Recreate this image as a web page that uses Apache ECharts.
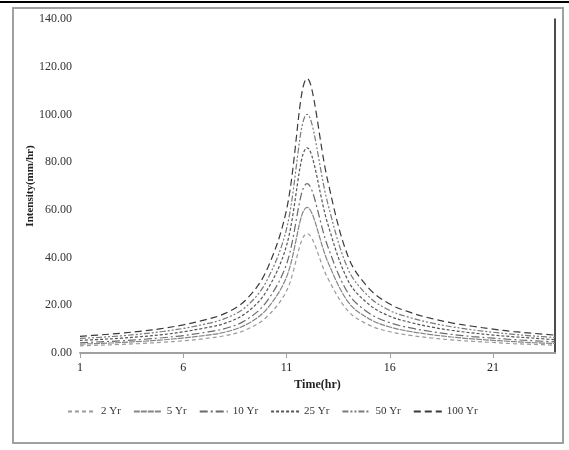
<!DOCTYPE html>
<html>
<head>
<meta charset="utf-8">
<script src="https://cdn.jsdelivr.net/npm/echarts@6/dist/echarts.min.js"></script>
<style>html,body{margin:0;padding:0;background:#fff;}#c{width:569px;height:450px;}</style>
</head>
<body>
<div id="c"></div>
<script>
const hours = ['1','2','3','4','5','6','7','8','9','10','11','12','13','14','15','16','17','18','19','20','21','22','23','24'];
const yr2   = [3.0,3.3,3.6,4.0,4.5,5.1,6.0,7.2,9.6,14.8,26,50,31.3,17.4,11.7,8.9,7.4,6.3,5.5,4.9,4.4,3.9,3.6,3.3];
const yr5   = [3.7,4.0,4.4,4.9,5.5,6.3,7.3,8.7,11.7,18,31.8,61,38.2,21.2,14.3,10.9,9.0,7.7,6.7,5.9,5.3,4.8,4.3,4.0];
const yr10  = [4.3,4.7,5.1,5.7,6.4,7.3,8.6,10.2,13.6,21.1,37.2,71,44.6,24.8,16.7,12.7,10.5,9.0,7.8,6.9,6.2,5.6,5.1,4.7];
const yr25  = [5.3,5.7,6.2,6.9,7.7,8.9,10.4,12.4,16.5,25.5,45,86,54,30,20.3,15.4,12.8,10.9,9.5,8.4,7.5,6.8,6.2,5.6];
const yr50  = [6.1,6.6,7.2,8.0,9.0,10.3,12.0,14.4,19.1,29.6,52,100,62.6,34.8,23.5,17.8,14.8,12.6,11.0,9.7,8.7,7.8,7.1,6.5];
const yr100 = [7.0,7.6,8.3,9.2,10.3,11.8,13.8,16.5,22,34,60,115,72,40,27,20.5,17,14.5,12.6,11.2,10.0,9.0,8.2,7.5];
const seriesNames = ['2 Yr','5 Yr','10 Yr','25 Yr','50 Yr','100 Yr'];
const seriesData = [yr2, yr5, yr10, yr25, yr50, yr100];
const yTicks = [0,20,40,60,80,100,120,140];

const styles = [
  {color:'#9a9a9a', type:[4,3]},
  {color:'#858585', type:[6,1]},
  {color:'#6a6a6a', type:[8,3,2,3]},
  {color:'#555555', type:[3,2]},
  {color:'#7a7a7a', type:[6,2,2,2,2,2]},
  {color:'#3a3a3a', type:[7,4]}
];
const font = 'Liberation Serif, Times New Roman, serif';
const chart = echarts.init(document.getElementById('c'), null, {renderer:'canvas'});
chart.setOption({
  animation:false,
  backgroundColor:'#fff',
  graphic:[
    {type:'line', shape:{x1:0,y1:2,x2:569,y2:2}, style:{stroke:'#000',lineWidth:2}},
    {type:'rect', shape:{x:13,y:8,width:550,height:435}, style:{fill:'none',stroke:'#a0a0a0',lineWidth:2}}
  ],
  grid:{left:80,right:14,top:19,bottom:97},
  legend:{
    data:seriesNames,
    top:401,
    left:62,
    itemWidth:28,
    itemHeight:10,
    itemGap:12,
    itemStyle:{opacity:0},
    textStyle:{fontFamily:font,fontSize:11,color:'#333'}
  },
  xAxis:{
    type:'category',
    data:hours,
    boundaryGap:false,
    name:'Time(hr)',
    nameLocation:'middle',
    nameGap:22,
    nameTextStyle:{fontFamily:font,fontSize:12,fontWeight:'bold',color:'#222'},
    axisLine:{lineStyle:{color:'#a0a0a0',width:2}},
    axisTick:{show:true,interval:4,length:5,alignWithLabel:true,lineStyle:{color:'#a0a0a0'}},
    axisLabel:{interval:4,margin:9,fontFamily:font,fontSize:12,color:'#222'},
    splitLine:{show:false}
  },
  yAxis:[{
    type:'value',
    min:yTicks[0],
    max:yTicks[yTicks.length-1],
    interval:20,
    name:'Intensity(mm/hr)',
    nameLocation:'middle',
    nameGap:44,
    nameMoveOverlap:false,
    nameRotate:90,
    nameTextStyle:{fontFamily:font,fontSize:11,fontWeight:'bold',color:'#222'},
    axisLine:{show:false},
    axisTick:{show:false},
    splitLine:{show:false},
    axisLabel:{margin:8,fontFamily:font,fontSize:12,color:'#333',formatter:v=>v.toFixed(2)}
  },{
    type:'value',
    position:'right',
    min:0,max:140,interval:20,
    axisLine:{show:true,lineStyle:{color:'#111',width:1.5}},
    axisTick:{show:false},
    axisLabel:{show:false},
    splitLine:{show:false}
  }],
  series: seriesNames.map((n,i)=>({
    name:n,
    type:'line',
    data:seriesData[i],
    smooth:0.35,
    symbol:'none',
    lineStyle:{color:styles[i].color,type:styles[i].type,width:1.2},
    itemStyle:{color:styles[i].color}
  }))
});
</script>
</body>
</html>
